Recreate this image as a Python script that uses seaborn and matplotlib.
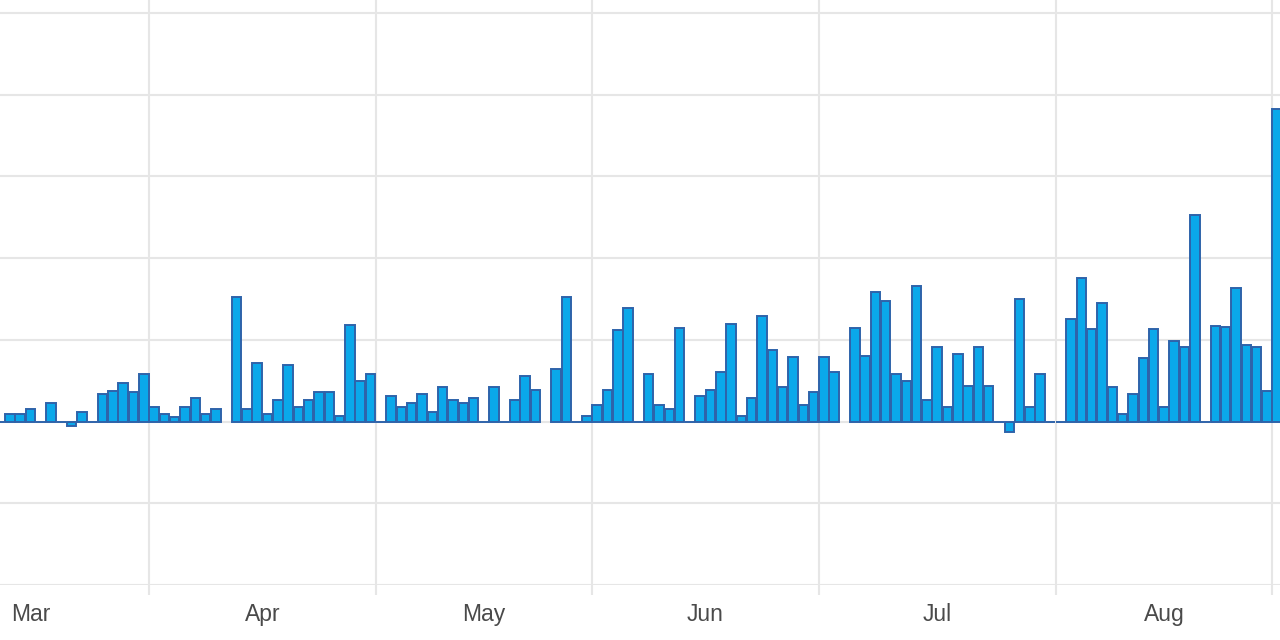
import matplotlib
matplotlib.use('Agg')
import matplotlib.pyplot as plt
import seaborn as sns
import pandas as pd
import numpy as np

# trading days (US market calendar), mid March to 1 Sep 2020
start = '2020-03-11'
end = '2020-09-01'
days = pd.bdate_range(start, end)
day_labels = [d.strftime('%Y-%m-%d') for d in days]

# daily values (None = market holiday, no bar)
values = [
    0, 0.9, 0.9, 1.5, 0, 2.3, 0, -0.5, 1.2, 0,
    3.4, 3.7, 4.7, 3.6, 5.8, 1.75, 0.9, 0.5, 1.75, 2.85,
    0.9, 1.5, None, 15.3, 1.5, 7.2, 0.9, 2.6, 6.9, 1.75,
    2.6, 3.6, 3.6, 0.7, 11.8, 5.0, 5.8, 0, 3.1, 1.75,
    2.3, 3.4, 1.2, 4.2, 2.6, 2.3, 2.85, 0, 4.2, 0,
    2.6, 5.55, 3.9, None, 6.4, 15.3, 0, 0.65, 2.0, 3.9,
    11.2, 13.9, 0, 5.8, 2.0, 1.5, 11.5, 0, 3.1, 3.9,
    6.1, 12.0, 0.65, 2.85, 12.9, 8.8, 4.2, 7.95, 2.0, 3.6,
    7.95, 6.1, None, 11.5, 8.0, 15.9, 14.8, 5.8, 5.0, 16.6,
    2.6, 9.1, 1.75, 8.3, 4.3, 9.1, 4.3, 0, -1.3, 15.0,
    1.75, 5.8, 0, 0, 12.6, 17.6, 11.3, 14.5, 4.2, 0.9,
    3.4, 7.75, 11.3, 1.75, 9.9, 9.1, 25.3, 0, 11.75, 11.6,
    16.4, 9.4, 9.1, 3.7, 38.2,
]

months = ['Mar', 'Apr', 'May', 'Jun', 'Jul', 'Aug']
month_starts = ['2020-03-01', '2020-04-01', '2020-05-01', '2020-06-01',
                '2020-07-01', '2020-08-01', '2020-09-01']

df = pd.DataFrame({'day': day_labels, 'value': values}).dropna()

sns.set_style('white')
plt.rcParams['font.family'] = ['Liberation Sans', 'DejaVu Sans']

fig = plt.figure(figsize=(12.8, 6.4), dpi=100)
ax = fig.add_axes([0, 55 / 640, 1, 585 / 640])

sns.barplot(data=df, x='day', y='value', order=day_labels, errorbar=None,
            color='#0aa8ea', edgecolor='#2e63aa', linewidth=1.4,
            width=0.92, saturation=1, ax=ax, zorder=3)

# month boundaries on the trading-day axis
bounds = [np.busday_count(start, m) - 0.5 for m in month_starts]
centres = [(a + b) / 2 for a, b in zip(bounds[:-1], bounds[1:])]

ax.set_xticks(bounds[1:])
ax.set_xticklabels([''] * len(bounds[1:]))
ax.set_xticks(centres, minor=True)
ax.set_xticklabels(months, minor=True)
ax.tick_params(axis='x', which='major', length=7.5, width=1.5,
               color='#e6e6e6', bottom=True)
ax.tick_params(axis='x', which='minor', length=0, pad=13,
               labelsize=16.5, labelcolor='#4a4a4a')

ax.set_yticks(np.arange(-20, 51, 10))
ax.set_yticklabels([])
ax.tick_params(axis='y', length=0)

ax.set_xlim(0.04, 124.27)
ax.set_ylim(-20, 51.59)
ax.grid(True, axis='both', which='major', color='#e6e6e6', linewidth=1.5, zorder=0)
ax.set_axisbelow(True)
ax.set_xlabel('')
ax.set_ylabel('')
for s in ax.spines.values():
    s.set_visible(False)

fig.savefig('out.png', dpi=100)
plt.close()
